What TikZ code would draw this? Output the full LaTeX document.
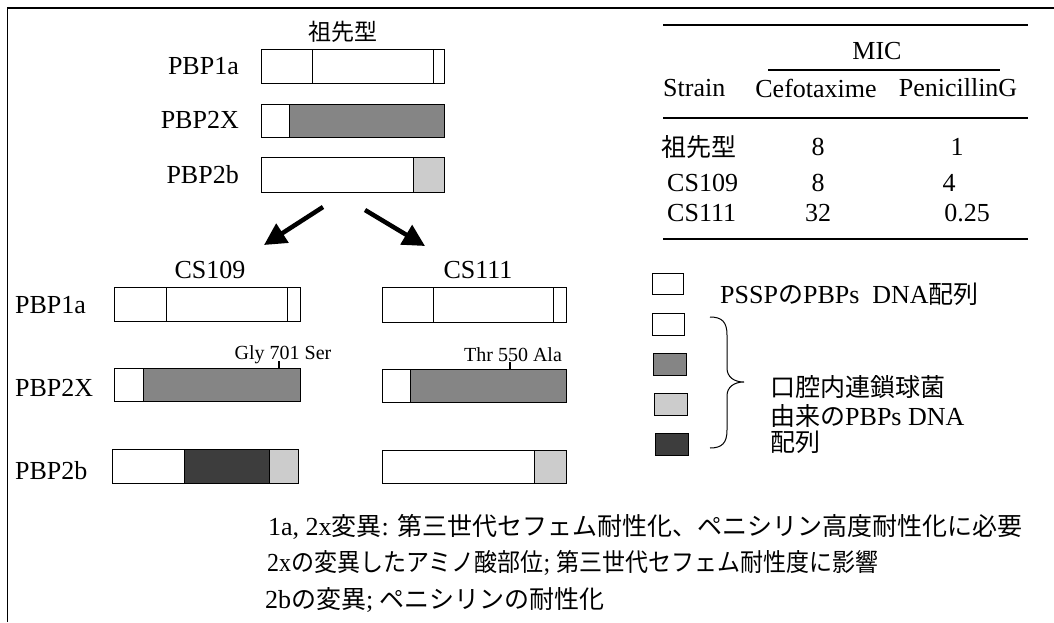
\documentclass[tikz,border=0pt]{standalone}
\usepackage{fontspec}
\setmainfont{Liberation Serif}
\newfontfamily\cjk{Noto Sans CJK JP}
\usetikzlibrary{arrows.meta}
\definecolor{midg}{gray}{0.52}
\definecolor{lightg}{gray}{0.80}
\definecolor{darkg}{gray}{0.24}
\newcommand{\fs}[1]{\fontsize{#1}{#1}\selectfont}
\begin{document}
\begin{tikzpicture}[x=1pt,y=-1pt,
  lbl/.style={inner sep=0pt, font=\fs{26}},
  cj/.style={inner sep=0pt, font=\fs{25}\cjk},
  mut/.style={inner sep=0pt, font=\fs{20}},
  bar/.style={draw=black, line width=1pt},
  seg/.style={line width=0.8pt},
  rule/.style={line width=1.3pt},
  bigarrow/.style={line width=4.5pt, -{Triangle[length=22pt,width=22pt]}},
]
\useasboundingbox (0,0) rectangle (1054,622);
\fill[white] (0,0) rectangle (1054,622);
% frame (top and left only)
\draw[line width=1.5pt] (7.5,622) -- (7.5,8) -- (1054,8);

% ---------- ancestor ----------
\node[inner sep=0pt, font=\fs{23}\cjk] (anc) at (343,32) {祖先型};
\node[lbl, anchor=east] (a1l) at (239,66) {PBP1a};
\node[lbl, anchor=east] (a2l) at (239,120) {PBP2X};
\node[lbl, anchor=east] (a3l) at (239,175) {PBP2b};
% PBP1a
\draw[bar] (261,49) rectangle (444,83);
\draw[seg] (312,49) -- (312,83) (433,49) -- (433,83);
% PBP2X
\fill[midg] (289,104) rectangle (444,137);
\draw[seg] (289,104) -- (289,137);
\draw[bar] (261,104) rectangle (444,137);
% PBP2b
\fill[lightg] (413,157) rectangle (444,192);
\draw[seg] (413,157) -- (413,192);
\draw[bar] (261,157) rectangle (444,192);

% arrows
\coordinate (l0) at (323,207);
\coordinate (l1) at (264,245);
\coordinate (r0) at (365,210);
\coordinate (r1) at (425,246);
\draw[bigarrow] (l0) -- (l1);
\draw[bigarrow] (r0) -- (r1);

% ---------- CS109 ----------
\node[lbl] (c109) at (210,270) {CS109};
\node[lbl, anchor=west] (b1l) at (15,305) {PBP1a};
\node[lbl, anchor=west] (b2l) at (15,388) {PBP2X};
\node[lbl, anchor=west] (b3l) at (15,471) {PBP2b};
\draw[bar] (114,287) rectangle (300,321);
\draw[seg] (166,287) -- (166,321) (287,287) -- (287,321);
\fill[midg] (143,368) rectangle (300,401);
\draw[seg] (143,368) -- (143,401);
\draw[bar] (114,368) rectangle (300,401);
\draw[line width=2pt] (279,361) -- (279,368);
\node[mut] (gly) at (283,355) {Gly 701 Ser};
\fill[darkg] (184,449) rectangle (269,483);
\fill[lightg] (269,449) rectangle (298,483);
\draw[seg] (184,449) -- (184,483) (269,449) -- (269,483);
\draw[bar] (112,449) rectangle (298,483);

% ---------- CS111 ----------
\node[lbl] (c111) at (478,270) {CS111};
\draw[bar] (382,287) rectangle (566,322);
\draw[seg] (433,287) -- (433,322) (553,287) -- (553,322);
\fill[midg] (410,369) rectangle (566,402);
\draw[seg] (410,369) -- (410,402);
\draw[bar] (382,369) rectangle (566,402);
\draw[line width=2pt] (510,362) -- (510,369);
\node[mut] (thr) at (513,355) {Thr 550 Ala};
\fill[lightg] (534,450) rectangle (566,483);
\draw[seg] (534,450) -- (534,483);
\draw[bar] (382,450) rectangle (566,483);

% ---------- legend ----------
\draw[bar] (652,273) rectangle (683,294);
\draw[bar] (652,313) rectangle (684,335);
\draw[bar, fill=midg] (653,353) rectangle (686,375);
\draw[bar, fill=lightg] (654,393) rectangle (687,415);
\draw[bar, fill=darkg] (655,433) rectangle (688,455);
\node[lbl, anchor=west] (lg1) at (720,294) {PSSP{\cjk\fs{25}の}PBPs\ \ DNA{\cjk\fs{25}配列}};
\draw[line width=1pt] (710,317) .. controls (722,317) and (727,322) .. (727,335)
  -- (727,368) .. controls (727,377) and (734,382) .. (744,382)
  .. controls (734,382) and (727,387) .. (727,396)
  -- (727,430) .. controls (727,443) and (722,448) .. (710,448);
\node[cj, anchor=west] (lg2) at (770,387) {口腔内連鎖球菌};
\node[lbl, anchor=west] (lg3) at (770,416) {{\cjk\fs{25}由来の}PBPs DNA};
\node[cj, anchor=west] (lg4) at (770,442) {配列};

% ---------- table ----------
\draw[rule] (663,25) -- (1028,25);
\node[lbl] (mic) at (877,51) {MIC};
\draw[rule] (768,70) -- (1000,70);
\node[lbl, anchor=west] (hs) at (663,88) {Strain};
\node[lbl] (hc) at (816,88) {Cefotaxime};
\node[lbl] (hp) at (958,88) {PenicillinG};
\draw[rule] (663,118) -- (1028,118);
\node[cj, anchor=west] (r1a) at (661,147) {祖先型};
\node[lbl] (r1b) at (818,147) {8};
\node[lbl] (r1c) at (957,147) {1};
\node[lbl, anchor=west] (r2a) at (667,183) {CS109};
\node[lbl] (r2b) at (818,183) {8};
\node[lbl] (r2c) at (949,183) {4};
\node[lbl, anchor=west] (r3a) at (667,213) {CS111};
\node[lbl] (r3b) at (818,213) {32};
\node[lbl] (r3c) at (967,213) {0.25};
\draw[rule] (663,239) -- (1028,239);

% ---------- notes ----------
\node[lbl, anchor=west] (n1) at (268,527) {1a, 2x{\cjk\fs{25}変異}: {\cjk\fs{25}第三世代セフェム耐性化、ペニシリン高度耐性化に必要}};
\node[lbl, anchor=west] (n2) at (267,563) {\scalebox{0.92}[1]{2x{\cjk\fs{25}の変異したアミノ酸部位}; {\cjk\fs{25}第三世代セフェム耐性度に影響}}};
\node[lbl, anchor=west] (n3) at (265,600) {2b{\cjk\fs{25}の変異}; {\cjk\fs{25}ペニシリンの耐性化}};
\end{tikzpicture}
\end{document}
